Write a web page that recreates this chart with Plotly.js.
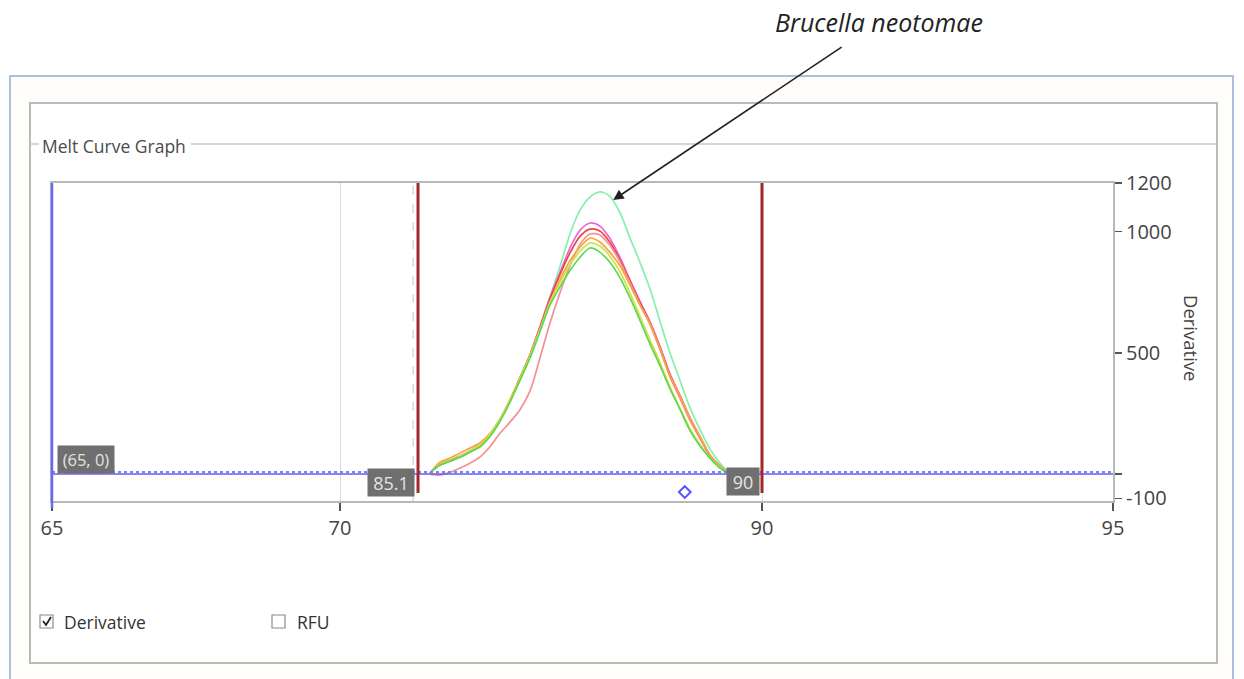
<!DOCTYPE html>
<html><head><meta charset="utf-8">
<script src="https://cdn.plot.ly/plotly-3.0.1.min.js"></script>
<style>html,body{margin:0;padding:0;background:#fff}#chart{width:1244px;height:679px}</style>
</head><body><div id="chart"></div>
<script>
// ---- data ----
const temperatures = [85.27,85.41,85.56,85.70,85.84,85.98,86.13,86.27,86.41,86.55,86.70,86.84,86.98,87.12,87.27,87.41,87.55,87.69,87.83,87.98,88.12,88.26,88.40,88.55,88.69,88.83,88.97,89.12,89.26,89.40,89.52];
const mintCurve   = [4,37,54,70,91,115,161,223,301,392,495,606,730,854,994,1089,1142,1163,1146,1076,973,874,767,627,499,388,276,181,103,45,8];
const pinkCurve   = [4,37,54,70,91,115,161,223,301,392,495,610,730,829,936,1006,1035,1023,973,891,800,713,631,524,412,326,235,153,78,33,4];
const redCurve    = [4,41,58,74,95,120,165,227,305,396,495,606,722,821,915,981,1010,1002,957,882,796,709,627,520,408,322,231,148,74,33,4];
const salmonCurve = [0,-4,8,25,45,70,115,169,214,264,346,482,623,746,862,948,990,986,944,874,788,701,619,511,400,313,223,144,74,33,4];
const orangeCurve = [4,49,66,87,107,128,169,227,305,396,491,598,705,800,882,936,973,957,915,858,779,697,623,515,404,326,235,153,78,33,4];
const yellowCurve = [4,41,58,74,95,120,165,227,305,392,491,598,709,788,866,920,953,940,899,833,746,652,557,458,359,272,190,120,66,29,4];
const greenCurve  = [4,37,54,70,91,111,157,219,297,384,482,590,697,771,841,895,932,915,874,808,726,635,540,445,351,268,181,115,66,25,4];

const seriesNames  = ['S1','S2','S3','S4','S5','S6','S7'];
const seriesValues = [mintCurve, pinkCurve, redCurve, salmonCurve, orangeCurve, yellowCurve, greenCurve];
const seriesColors = ['#86efab','#e46ad6','#ee4444','#f49090','#f4a443','#d6df45','#5ada4c'];

const meltMarkers = [85.1, 90];           // red limit lines
const peakMarkerT = [88.9], peakMarkerV = [-74];
const xTickVals  = [79.886, 83.989, 90, 95];
const xTickText  = ['65','70','90','95'];
const yTickVals  = [-100, 0, 500, 1000, 1200];
const yTickText  = ['-100','','500','1000','1200'];

// ---- layout helpers (pixel -> paper) ----
const L = 52, R = 1113, T = 183, B = 501;
const px = x => (x - L) / (R - L);
const py = y => (B - y) / (B - T);

const traces = seriesValues.map((v, i) => ({
  x: temperatures, y: v, type: 'scatter', mode: 'lines', name: seriesNames[i],
  line: {color: seriesColors[i], width: 1.7, shape: 'spline', smoothing: 0.8},
  hoverinfo: 'skip'
}));
traces.push({
  x: peakMarkerT, y: peakMarkerV, type: 'scatter', mode: 'markers',
  marker: {symbol: 'diamond-open', size: 9, color: '#5555ff', line: {width: 2, color: '#5555ff'}},
  hoverinfo: 'skip'
});

const shapes = [
  {type:'rect', xref:'paper', yref:'paper', x0:px(10), x1:px(1233), y0:py(76), y1:py(720),
   line:{color:'#a9c1dd', width:2}, fillcolor:'#fefdfa', layer:'below'},
  {type:'rect', xref:'paper', yref:'paper', x0:px(30), x1:px(1217), y0:py(103), y1:py(663),
   line:{color:'#b9b9b9', width:2}, fillcolor:'#ffffff', layer:'below'},
  {type:'line', xref:'paper', yref:'paper', x0:px(30), x1:px(39), y0:py(144), y1:py(144),
   line:{color:'#c8c8c8', width:1.5}},
  {type:'line', xref:'paper', yref:'paper', x0:px(191), x1:px(1217), y0:py(144), y1:py(144),
   line:{color:'#c8c8c8', width:1.5}},
  {type:'line', xref:'x', yref:'paper', x0:85.03, x1:85.03, y0:0, y1:1,
   line:{color:'#c4c4c4', width:1, dash:'dash'}},
  {type:'line', xref:'paper', yref:'y', x0:0, x1:1, y0:0, y1:0,
   line:{color:'#5e5ef2', width:1.5}},
  {type:'line', xref:'paper', yref:'y', x0:0, x1:1, y0:8, y1:8,
   line:{color:'#7d7dff', width:2.5, dash:'dot'}},
  {type:'line', xref:'paper', yref:'paper', x0:0, x1:0, y0:py(508), y1:1,
   line:{color:'#6a6af0', width:2.5}},
  {type:'rect', xref:'paper', yref:'paper', x0:px(40), x1:px(53), y0:py(628), y1:py(615),
   line:{color:'#8a8a8a', width:1.2}, fillcolor:'#ffffff'},
  {type:'path', xref:'paper', yref:'paper',
   path:`M ${px(43)} ${py(621)} L ${px(46)} ${py(625)} L ${px(51)} ${py(617)}`,
   line:{color:'#222', width:1.8}},
  {type:'rect', xref:'paper', yref:'paper', x0:px(272), x1:px(285), y0:py(628), y1:py(615),
   line:{color:'#8a8a8a', width:1.2}, fillcolor:'#ffffff'}
];
meltMarkers.forEach(m => shapes.push({
  type:'line', xref:'x', yref:'y', x0:m, x1:m, y0:-78, y1:1200,
  line:{color:'#a3262b', width:3}
}));

const font = 'Open Sans, Noto Sans, sans-serif';
const boxLabel = (text, x0, y0, w, h, size) => ({
  xref:'paper', yref:'paper', x:px(x0), y:py(y0), xanchor:'left', yanchor:'top',
  text:text, showarrow:false, width:w, height:h, bgcolor:'#6f6f6f', borderpad:0,
  font:{family:font, size:size, color:'#e4e4e4'}
});

const annotations = [
  {xref:'x', yref:'y', x:87.88, y:1130, ax:266, ay:-178, showarrow:true,
   arrowhead:2, arrowsize:1.3, arrowwidth:1.6, arrowcolor:'#222', startstandoff:12,
   text:'<i>Brucella neotomae</i>', font:{family:font, size:25, color:'#222'}},
  {xref:'paper', yref:'paper', x:px(40), y:py(146), xanchor:'left', yanchor:'middle',
   showarrow:false, text:'Melt Curve Graph', font:{family:font, size:17.5, color:'#4a4a4a'}},
  {xref:'paper', yref:'paper', x:px(1192), y:py(338), xanchor:'center', yanchor:'middle',
   showarrow:false, textangle:90, text:'Derivative', font:{family:font, size:18.5, color:'#444'}},
  boxLabel('85.1', 367, 468, 46, 27, 18),
  boxLabel('90', 726, 467, 32, 27, 18),
  boxLabel('(65, 0)', 57, 445, 56, 27, 16.5),
  {xref:'paper', yref:'paper', x:px(62), y:py(622), xanchor:'left', yanchor:'middle',
   showarrow:false, text:'Derivative', font:{family:font, size:17.5, color:'#333'}},
  {xref:'paper', yref:'paper', x:px(295), y:py(622), xanchor:'left', yanchor:'middle',
   showarrow:false, text:'RFU', font:{family:font, size:17.5, color:'#333'}}
];

const layout = {
  width:1244, height:679,
  margin:{l:L, r:1244-R, t:T, b:679-B, pad:0},
  paper_bgcolor:'#ffffff', plot_bgcolor:'#ffffff',
  showlegend:false,
  font:{family:font, color:'#444'},
  xaxis:{range:[79.886, 95], tickmode:'array', tickvals:xTickVals, ticktext:xTickText,
         showgrid:true, gridcolor:'#dadada', gridwidth:1, zeroline:false,
         showline:true, linecolor:'#b8b8b8', linewidth:2, mirror:true,
         ticks:'outside', ticklen:8, tickcolor:'#555', tickwidth:1.5,
         tickfont:{family:font, size:20, color:'#444'}, fixedrange:true},
  yaxis:{range:[-111, 1200], side:'right', tickmode:'array', tickvals:yTickVals, ticktext:yTickText,
         showgrid:false, zeroline:false,
         showline:true, linecolor:'#b8b8b8', linewidth:2, mirror:true,
         ticks:'outside', ticklen:7, tickcolor:'#555', tickwidth:1.5,
         tickfont:{family:font, size:20, color:'#444'}, fixedrange:true},
  shapes:shapes,
  annotations:annotations
};

Plotly.newPlot('chart', traces, layout, {staticPlot:true, displayModeBar:false});
</script>
</body></html>
